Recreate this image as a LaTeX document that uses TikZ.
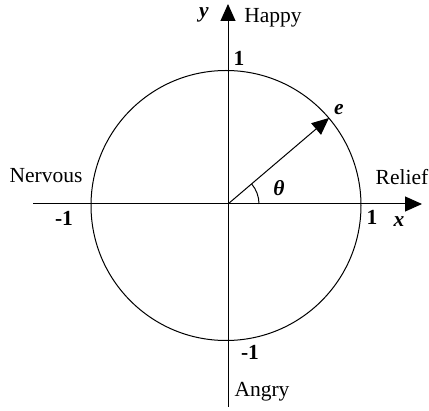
\documentclass[tikz,border=0pt]{standalone}
\usepackage{fontspec}
\setmainfont{Liberation Serif}
\usetikzlibrary{arrows.meta}
\begin{document}
\begin{tikzpicture}[x=1pt,y=-1pt,
  axis/.style={line width=1pt,-{Triangle[length=17pt,width=15pt]}},
  lbl/.style={font=\fontsize{21.5}{24}\selectfont,inner sep=0pt},
  num/.style={font=\fontsize{21.5}{24}\selectfont\bfseries,inner sep=0pt},
  var/.style={font=\fontsize{21.5}{24}\selectfont\bfseries\itshape,inner sep=0pt}]
\useasboundingbox (0,0) rectangle (429,411);
\coordinate (O) at (228,204);
\coordinate (xl) at (33,204);
\coordinate (xr) at (422,204);
\coordinate (yb) at (228,407);
\coordinate (yt) at (228,4);
\coordinate (E) at (329,118);
\draw[line width=1pt] (226,205.5) circle (135);
\draw[axis] (xl) -- (xr);
\draw[axis] (yb) -- (yt);
\draw[axis] (O) -- (E);
\draw[line width=1pt] (259,204) arc (0:-40.5:31);
\node[var] (ylab) at (204,15) {y};
\node[lbl] (happy) at (273,18) {Happy};
\node[num] (one) at (239,58) {1};
\node[var] (elab) at (339,110) {e};
\node[lbl] (nerv) at (46,176) {Nervous};
\node[num] (mone) at (64,218) {-1};
\node[lbl] (relief) at (402,177) {Relief};
\node[num] (onex) at (372,217) {1};
\node[var] (xlab) at (399,222) {x};
\node[var] (th) at (279,188) {θ};
\node[num] (money) at (250,352) {-1};
\node[lbl] (angry) at (262,392) {Angry};
\end{tikzpicture}
\end{document}
